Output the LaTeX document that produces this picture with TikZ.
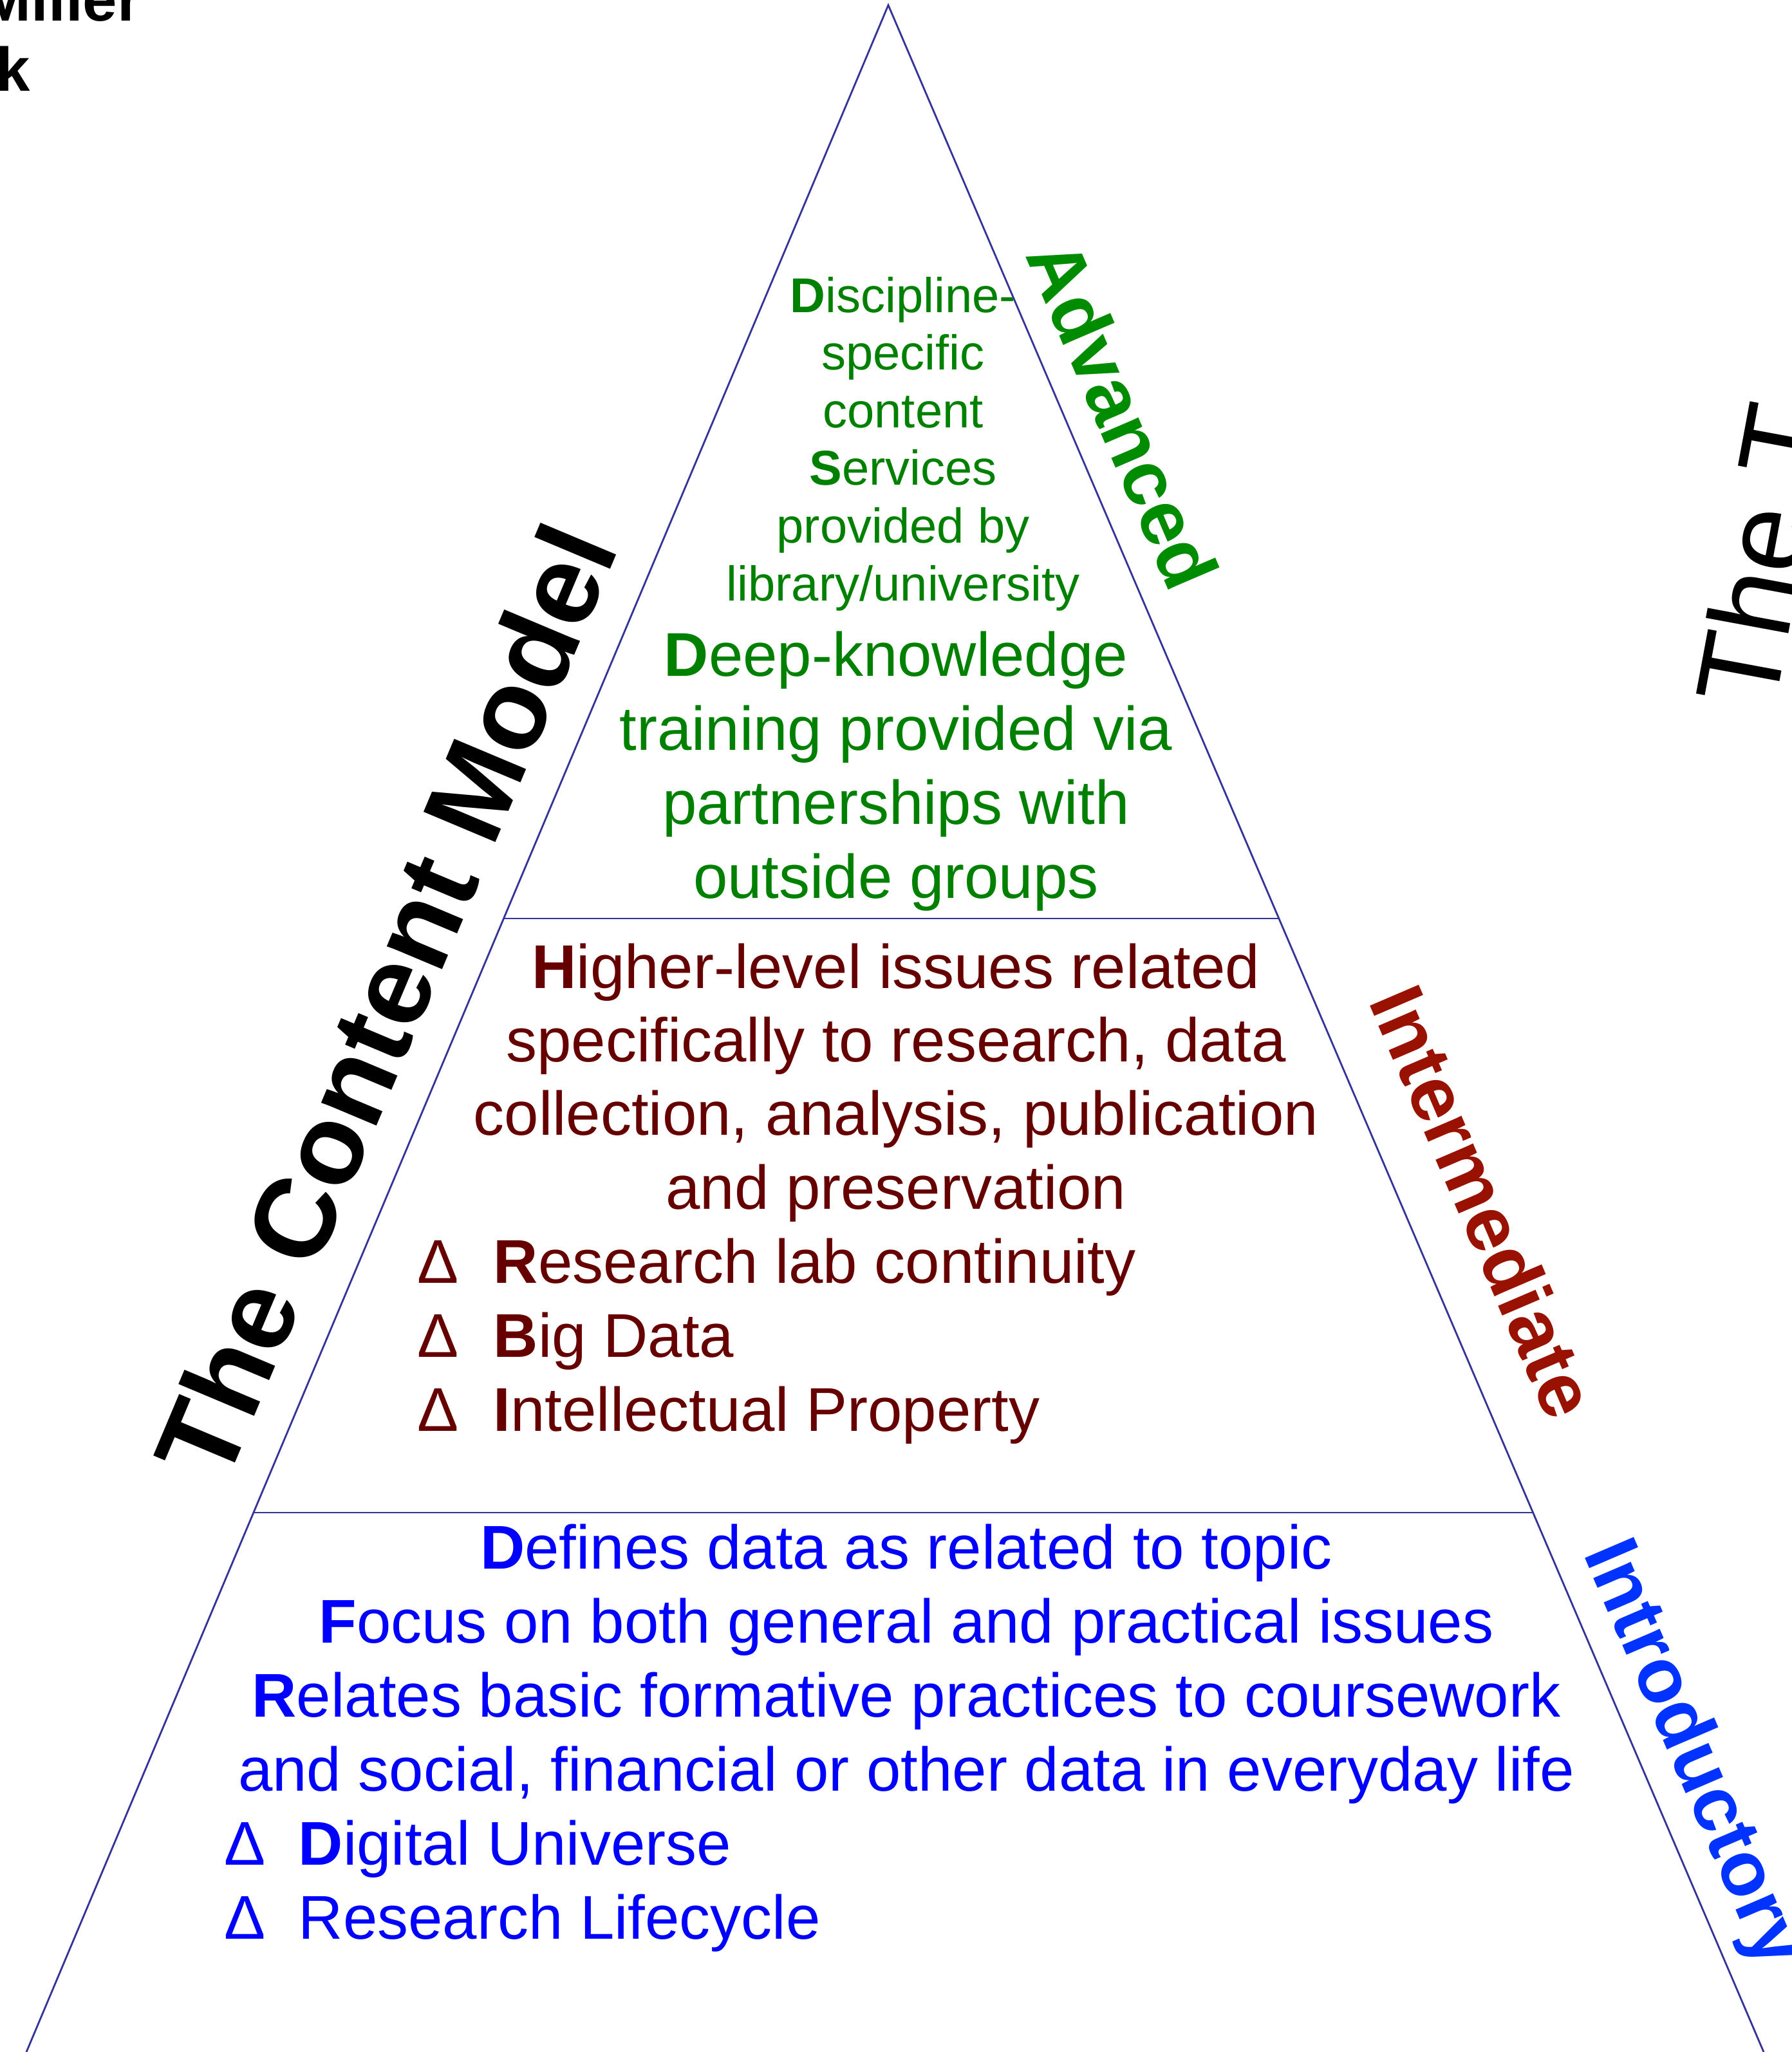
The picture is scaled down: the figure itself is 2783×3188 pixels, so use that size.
\documentclass[tikz,border=0pt]{standalone}
\usepackage{fontspec}
\setmainfont{Liberation Sans}
\usetikzlibrary{calc}
\definecolor{lineblue}{HTML}{333399}
\definecolor{advgreen}{HTML}{008000}
\definecolor{advlabel}{HTML}{008C00}
\definecolor{intred}{HTML}{660000}
\definecolor{intlabel}{HTML}{991100}
\definecolor{introblue}{HTML}{0000FF}
\definecolor{introlabel}{HTML}{0033FF}
\tikzset{
  pyrline/.style={draw=lineblue, line width=0.7pt},
  bodytxt/.style={inner sep=0pt, anchor=base, font=\fontsize{24}{28}\selectfont},
  smalltxt/.style={inner sep=0pt, anchor=base, font=\fontsize{19}{22}\selectfont},
  bultxt/.style={inner sep=0pt, anchor=base west, font=\fontsize{24}{28}\selectfont},
  sidelbl/.style={inner sep=0pt, anchor=base west, font=\bfseries\fontsize{30}{36}\selectfont, rotate=-66.8},
  titletxt/.style={inner sep=0pt, font=\fontsize{45}{54}\selectfont}
}
\begin{document}
\begin{tikzpicture}[x=0.25pt,y=-0.25pt]
\useasboundingbox (0,0) rectangle (2783,3188);
% pyramid
\coordinate (apex) at (1380,8);
\coordinate (bl) at (41,3188);
\coordinate (br) at (2740,3188);
\coordinate (d1l) at ($(apex)!0.44623!(bl)$);
\coordinate (d1r) at ($(apex)!0.44623!(br)$);
\coordinate (d2l) at ($(apex)!0.73648!(bl)$);
\coordinate (d2r) at ($(apex)!0.73648!(br)$);
\draw[pyrline] (bl) -- (apex) -- (br);
\draw[pyrline] (d1l) -- (d1r);
\draw[pyrline] (d2l) -- (d2r);

% top-left cut text
\node[inner sep=0pt, anchor=base west, font=\bfseries\fontsize{24}{28}\selectfont] (auth1) at (-32,33) {Miller};
\node[inner sep=0pt, anchor=base west, font=\bfseries\fontsize{24}{28}\selectfont] (auth2) at (-7,142) {k};

% advanced block
\node[smalltxt, text=advgreen] (a1) at (1403,485) {\textbf{D}iscipline-};
\node[smalltxt, text=advgreen] (a2) at (1403,574.6) {specific};
\node[smalltxt, text=advgreen] (a3) at (1403,664.2) {content};
\node[smalltxt, text=advgreen] (a4) at (1403,753.8) {\textbf{S}ervices};
\node[smalltxt, text=advgreen] (a5) at (1403,843.4) {provided by};
\node[smalltxt, text=advgreen] (a6) at (1403,933) {library/university};
\node[bodytxt, text=advgreen] (b1) at (1392,1050) {\textbf{D}eep-knowledge};
\node[bodytxt, text=advgreen] (b2) at (1392,1165) {training provided via};
\node[bodytxt, text=advgreen] (b3) at (1392,1280) {partnerships with};
\node[bodytxt, text=advgreen] (b4) at (1392,1395) {outside groups};

% intermediate block
\node[bodytxt, text=intred] (i1) at (1392,1535) {\textbf{H}igher-level issues related};
\node[bodytxt, text=intred] (i2) at (1392,1649) {specifically to research, data};
\node[bodytxt, text=intred] (i3) at (1392,1763) {collection, analysis, publication};
\node[bodytxt, text=intred] (i4) at (1392,1878) {and preservation};
\node[bultxt, text=intred] (id1) at (648,1993) {Δ};
\node[bultxt, text=intred] (it1) at (766,1993) {\textbf{R}esearch lab continuity};
\node[bultxt, text=intred] (id2) at (648,2108) {Δ};
\node[bultxt, text=intred] (it2) at (766,2108) {\textbf{B}ig Data};
\node[bultxt, text=intred] (id3) at (648,2223) {Δ};
\node[bultxt, text=intred] (it3) at (766,2223) {\textbf{I}ntellectual Property};

% introductory block
\node[bodytxt, text=introblue] (n1) at (1408,2437) {\textbf{D}efines data as related to topic};
\node[bodytxt, text=introblue] (n2) at (1408,2552) {\textbf{F}ocus on both general and practical issues};
\node[bodytxt, text=introblue] (n3) at (1408,2667) {\textbf{R}elates basic formative practices to coursework};
\node[bodytxt, text=introblue] (n4) at (1408,2782) {and social, financial or other data in everyday life};
\node[bultxt, text=introblue] (nd1) at (348,2897) {Δ};
\node[bultxt, text=introblue] (nt1) at (463,2897) {\textbf{D}igital Universe};
\node[bultxt, text=introblue] (nd2) at (348,3012) {Δ};
\node[bultxt, text=introblue] (nt2) at (463,3012) {Research Lifecycle};

% side labels
\node[sidelbl, text=advlabel] (ladv) at (1592,396) {Advanced};
\node[sidelbl, text=intlabel] (lint) at (2125,1555) {Intermediate};
\node[sidelbl, text=introlabel] (lintro) at (2459,2413) {Introductory};

% titles
\node[titletxt, font=\bfseries\fontsize{44}{53}\selectfont, rotate=67.2] (tcm) at (598,1556) {The Content Model};
\node[titletxt, anchor=base west, rotate=79.5] (tt) at (2756,1105) {The T};
\end{tikzpicture}
\end{document}
